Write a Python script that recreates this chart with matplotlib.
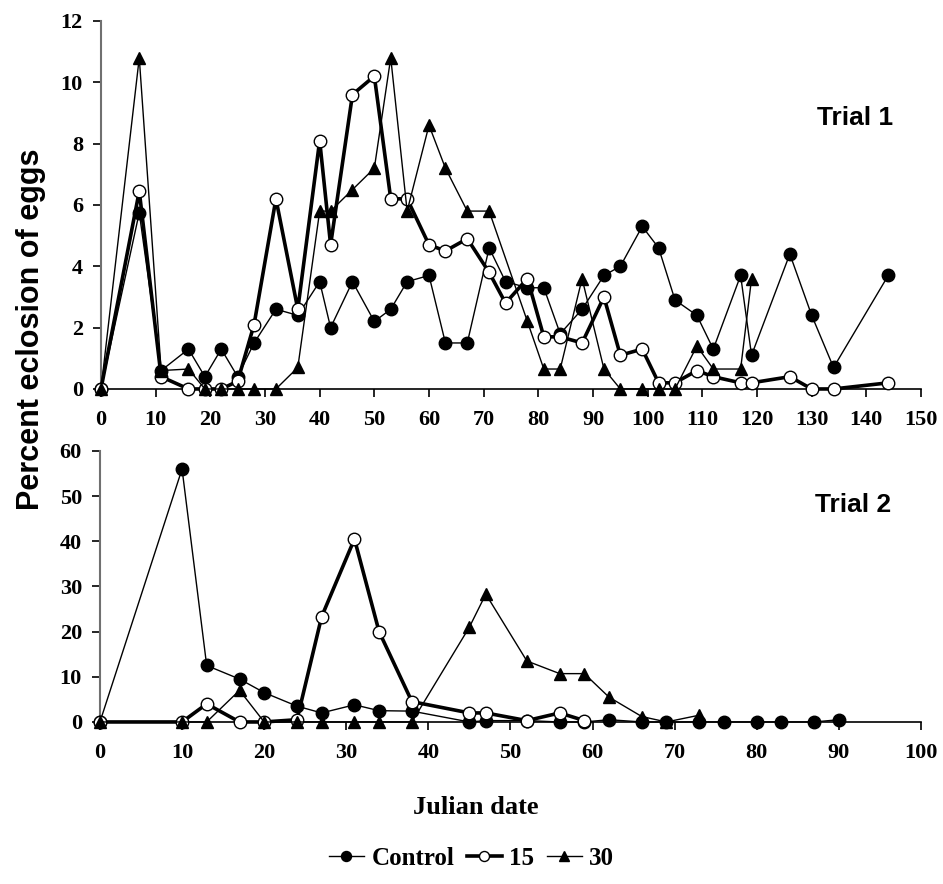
import matplotlib
matplotlib.use('Agg')
import matplotlib.pyplot as plt

# Trial 1 data
t1_ctrl_x = [0, 7, 11, 16, 19, 22, 25, 28, 32, 36, 40, 42, 46, 50, 53, 56, 60, 63, 67, 71, 74, 78, 81, 84,
             88, 92, 95, 99, 102, 105, 109, 112, 117, 119, 126, 130, 134, 144]
t1_ctrl_y = [0, 5.75, 0.6, 1.3, 0.4, 1.3, 0.4, 1.5, 2.6, 2.4, 3.5, 2.0, 3.5, 2.2, 2.6, 3.5, 3.7, 1.5, 1.5, 4.6,
             3.5, 3.3, 3.3, 1.8, 2.6, 3.7, 4.0, 5.3, 4.6, 2.9, 2.4, 1.3, 3.7, 1.1, 4.4, 2.4, 0.7, 3.7]
t1_15_x = [0, 7, 11, 16, 19, 22, 25, 28, 32, 36, 40, 42, 46, 50, 53, 56, 60, 63, 67, 71, 74, 78, 81, 84,
           88, 92, 95, 99, 102, 105, 109, 112, 117, 119, 126, 130, 134, 144]
t1_15_y = [0, 6.45, 0.4, 0, 0, 0, 0.25, 2.1, 6.2, 2.6, 8.1, 4.7, 9.6, 10.2, 6.2, 6.2, 4.7, 4.5, 4.9, 3.8,
           2.8, 3.6, 1.7, 1.7, 1.5, 3.0, 1.1, 1.3, 0.2, 0.2, 0.6, 0.4, 0.2, 0.2, 0.4, 0, 0, 0.2]
t1_30_x = [0, 7, 11, 16, 19, 22, 25, 28, 32, 36, 40, 42, 46, 50, 53, 56, 60, 63, 67, 71, 78, 81, 84,
           88, 92, 95, 99, 102, 105, 109, 112, 117, 119]
t1_30_y = [0, 10.8, 0.6, 0.65, 0, 0, 0, 0, 0, 0.7, 5.8, 5.8, 6.5, 7.2, 10.8, 5.8, 8.6, 7.2, 5.8, 5.8,
           2.2, 0.65, 0.65, 3.6, 0.65, 0, 0, 0, 0, 1.4, 0.65, 0.65, 3.6]

# Trial 2 data
t2_ctrl_x = [0, 10, 13, 17, 20, 24, 27, 31, 34, 38, 45, 47, 52, 56, 59, 62, 66, 69, 73, 76, 80, 83, 87, 90]
t2_ctrl_y = [0, 56, 12.5, 9.5, 6.5, 3.5, 2.0, 3.8, 2.5, 2.4, 0, 0.3, 0.3, 0, 0, 0.5, 0, 0, 0, 0, 0, 0, 0, 0.5]
t2_15_x = [0, 10, 13, 17, 20, 24, 27, 31, 34, 38, 45, 47, 52, 56, 59]
t2_15_y = [0, 0, 4.0, 0, 0, 0.5, 23.3, 40.5, 20.0, 4.5, 2.0, 2.0, 0.3, 2.0, 0.3]
t2_30_x = [0, 10, 13, 17, 20, 24, 27, 31, 34, 38, 45, 47, 52, 56, 59, 62, 66, 69, 73]
t2_30_y = [0, 0, 0, 7.0, 0, 0, 0, 0, 0, 0, 21.0, 28.3, 13.5, 10.7, 10.7, 5.5, 1.2, 0, 1.5]

labels = ['Control', '15', '30']

serif = 'Liberation Serif'
sans = 'Liberation Sans'

fig = plt.figure(figsize=(9.43, 8.84), dpi=100)
ax1 = fig.add_axes([0.1071, 0.5600, 0.8696, 0.4163])
ax2 = fig.add_axes([0.1060, 0.1833, 0.8706, 0.3066])


def draw(ax, cx, cy, fx, fy, tx, ty):
    ax.plot(cx, cy, color='black', lw=1.0, marker='o', ms=9, mfc='black', mec='black',
            clip_on=False, zorder=3, label=labels[0])
    ax.plot(fx, fy, color='black', lw=2.6, marker='o', ms=9, mfc='white', mec='black', mew=1.0,
            clip_on=False, zorder=4, label=labels[1])
    ax.plot(tx, ty, color='black', lw=1.0, marker='^', ms=9, mfc='black', mec='black',
            clip_on=False, zorder=5, label=labels[2])
    for s in ['top', 'right']:
        ax.spines[s].set_visible(False)
    ax.spines['left'].set_color('#707070')
    ax.spines['left'].set_linewidth(1.5)
    ax.spines['bottom'].set_linewidth(1.2)
    ax.tick_params(direction='out', length=6, width=1.2, labelsize=16, pad=9)
    ax.tick_params(axis='y', pad=7)
    for lab in ax.get_xticklabels() + ax.get_yticklabels():
        lab.set_family(serif)
        lab.set_fontweight('bold')


ax1.set_xlim(0, 150)
ax1.set_ylim(0, 12)
ax1.set_xticks(range(0, 151, 10))
ax1.set_yticks(range(0, 13, 2))
draw(ax1, t1_ctrl_x, t1_ctrl_y, t1_15_x, t1_15_y, t1_30_x, t1_30_y)
ax1.text(0.92, 0.735, 'Trial 1', transform=ax1.transAxes, ha='center', va='center',
         family=sans, fontweight='bold', fontsize=19)

ax2.set_xlim(0, 100)
ax2.set_ylim(0, 60)
ax2.set_xticks(range(0, 101, 10))
ax2.set_yticks(range(0, 61, 10))
draw(ax2, t2_ctrl_x, t2_ctrl_y, t2_15_x, t2_15_y, t2_30_x, t2_30_y)
ax2.text(0.917, 0.80, 'Trial 2', transform=ax2.transAxes, ha='center', va='center',
         family=sans, fontweight='bold', fontsize=19)

fig.text(0.033, 0.627, 'Percent eclosion of eggs', rotation=90, ha='center', va='center',
         family=sans, fontweight='bold', fontsize=22)
fig.text(0.504, 0.086, 'Julian date', ha='center', va='center',
         family=serif, fontweight='bold', fontsize=19)

handles, labs = ax2.get_legend_handles_labels()
fig.legend(handles, labs, loc='center', bbox_to_anchor=(0.5, 0.029), ncol=3, frameon=False,
           handlelength=1.4, handletextpad=0.3, columnspacing=0.5, markerscale=0.8,
           prop={'family': serif, 'weight': 'bold', 'size': 18})

fig.savefig('out.png', dpi=100)
